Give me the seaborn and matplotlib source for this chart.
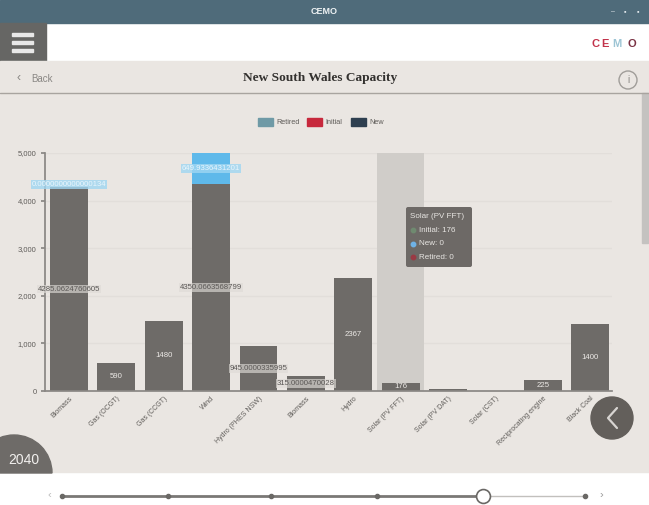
import matplotlib
matplotlib.use("Agg")
import matplotlib.pyplot as plt
from matplotlib.patches import Circle, FancyBboxPatch, Rectangle, Wedge
import numpy as np
import pandas as pd
import seaborn as sns

technologies = ["Biomass", "Gas (OCGT)", "Gas (CCGT)", "Wind", "Hydro (PHES NSW)", "Biomass",
                "Hydro", "Solar (PV FFT)", "Solar (PV DAT)", "Solar (CST)",
                "Reciprocating engine", "Black Coal"]
initial_mw = [4285.0624760605, 590, 1480, 4350.0663568799, 945.0000335995, 315.0000470028,
              2367, 176, 50, 6, 225, 1400]
new_mw = [0.0000000000000134, 0, 0, 649.9336431201, 0, 0, 0, 0, 0, 0, 0, 0]
bar_labels = ["4285.0624760605", "590", "1480", "4350.0663568799", "945.0000335995",
              "315.0000470028", "2367", "176", "", "", "225", "1400"]
new_labels = ["0.0000000000000134", "", "", "649.9336431201"]
y_ticks = [0, 1000, 2000, 3000, 4000, 5000]
y_tick_labels = ["0", "1,000", "2,000", "3,000", "4,000", "5,000"]
legend_names = ["Retired", "Initial", "New"]
legend_colors = ["#6f9aa6", "#c7283c", "#2e3f50"]
tooltip_lines = ["Solar (PV FFT)", "Initial: 176", "New: 0", "Retired: 0"]
slider_stops = [62, 168, 271, 377, 483, 585]

W, H = 649, 505
BG = "#eae6e2"
BAR = "#6e6b68"
GRID = "#e2deda"
INK = "#5f5c59"

sns.set_theme(style="white")
plt.rcParams["font.family"] = ["Liberation Sans", "DejaVu Sans"]

fig = plt.figure(figsize=(W / 100, H / 100), dpi=100, facecolor="white")

# Page furniture is laid out in pixel coordinates on a full-figure layer
page = fig.add_axes([0, 0, 1, 1], zorder=0)
page.set_xlim(0, W)
page.set_ylim(H, 0)
page.axis("off")
page.add_patch(Rectangle((0, 0), W, 23, color="#4f6b7a"))
page.add_patch(Rectangle((0, 23), 46, 38, color="#666664"))
for yy in (34, 42, 50):
    page.add_patch(Rectangle((12, yy - 1.5), 21, 3, color="#e8e8e8"))
page.add_patch(Rectangle((0, 61), W, 411, color=BG))
page.plot([0, W], [92.5, 92.5], color="#a8a49f", lw=1)
page.add_patch(Rectangle((642, 93), 6, 150, color="#c4c2c0"))
page.text(324, 11.5, "CEMO", color="#eef2f4", fontsize=6.5, weight="bold", ha="center", va="center")
for bx, glyph in zip((613, 625, 638), ("–", "▪", "▪")):
    page.text(bx, 11.5, glyph, color="#dfe6ea", fontsize=5, ha="center", va="center")
for lx, glyph, colour in zip((595, 605, 617, 632), "CEMO",
                             ("#c2324a", "#c2324a", "#9cc4d4", "#7a3244")):
    page.text(lx, 44, glyph, color=colour, fontsize=8, weight="bold", ha="center", va="center")
page.text(19, 78, "‹", color="#8a8784", fontsize=9, ha="center", va="center")
page.text(42, 79, "Back", color="#8a8784", fontsize=7, ha="center", va="center")
page.text(320, 78.5, "New South Wales Capacity", color="#33312f", fontsize=9.6,
          weight="bold", family="Liberation Serif", ha="center", va="center")
page.add_patch(Circle((628, 80), 9, fill=False, ec="#a09d99", lw=1))
page.text(628, 80, "i", color="#8a8784", fontsize=7, ha="center", va="center")

# Legend row
for x0, tx, name, colour in zip((258, 307, 351), (276, 325, 369), legend_names, legend_colors):
    page.add_patch(Rectangle((x0, 118), 15, 8, color=colour))
    page.text(tx, 122, name, color=INK, fontsize=5.2, va="center")

# Year badge
page.add_patch(Wedge((14, 473), 38, 180, 360, color=BAR))
page.text(24, 460, "2040", color="#f2f0ee", fontsize=10, ha="center", va="center")

# Back button
page.add_patch(Circle((612, 418), 21, color="#635f5b", zorder=6))
page.plot([617, 608, 617], [408, 418, 428], color="#d8d5d2", lw=1.6, zorder=7)

# Timeline slider
page.plot([62, 483], [496, 496], color="#7a7875", lw=2)
page.plot([483, 585], [496, 496], color="#c2c0bd", lw=1)
for sx in slider_stops:
    page.plot(sx, 496, "o", ms=3, color="#6a6865")
page.plot(483, 496, "o", ms=10, mfc="white", mec="#6a6865", mew=1.2, zorder=5)
page.text(49, 495, "‹", color="#bbbbbb", fontsize=8, ha="center", va="center")
page.text(601, 495, "›", color="#999999", fontsize=8, ha="center", va="center")

# Capacity bars
ax = fig.add_axes([45 / W, 1 - 391 / H, (612 - 45) / W, (391 - 153) / H], zorder=2)
ax.patch.set_alpha(0)
frame = pd.DataFrame({"technology": np.arange(len(technologies)), "initial": initial_mw, "new": new_mw})
ax.axvspan(6.51, 7.5, color="#d0cdc9", zorder=1, lw=0)
sns.barplot(data=frame, x="technology", y="initial", color=BAR, saturation=1, width=0.8,
            linewidth=0, ax=ax, zorder=2)
ax.bar(frame["technology"], frame["new"], bottom=frame["initial"], width=0.8,
       color="#5fb9ea", linewidth=0, zorder=2)

ax.set_xlim(-0.506, 11.46)
ax.set_ylim(0, 5000)
ax.set_yticks(y_ticks, y_tick_labels)
ax.set_xticks(range(len(technologies)))
ax.set_xticklabels(technologies, rotation=45, ha="right", rotation_mode="anchor",
                   fontsize=5, color=INK)
ax.tick_params(axis="y", labelsize=5.5, labelcolor=INK, length=3, color="#8a8784", pad=3, left=True)
ax.tick_params(axis="x", length=0, pad=3)
ax.set_xlabel("")
ax.set_ylabel("")
ax.grid(axis="y", color=GRID, lw=1)
ax.set_axisbelow(True)
sns.despine(ax=ax, top=True, right=True)
ax.spines["left"].set_color("#8a8784")
ax.spines["bottom"].set_color("#8a8784")

# Value labels inside the bars
for i, (value, text) in enumerate(zip(initial_mw, bar_labels)):
    if text:
        long_label = len(text) > 6
        ax.text(i, value / 2, text, fontsize=5.6, ha="center", va="center", zorder=4,
                color="#5a5755" if long_label else "#ece9e6",
                bbox=dict(boxstyle="square,pad=0.12", fc="#dedad6", ec="none", alpha=0.65) if long_label else None)
for i, text in enumerate(new_labels):
    if text:
        ax.text(i, initial_mw[i] + (new_mw[i] / 2 if new_mw[i] > 1 else 60), text, fontsize=5.6,
                ha="center", va="center", color="#eaf6fd", zorder=4,
                bbox=dict(boxstyle="square,pad=0.12", fc="#9fd6f2", ec="none", alpha=0.8))

# Hover tooltip for the highlighted category
page_top = fig.add_axes([0, 0, 1, 1], zorder=5)
page_top.set_xlim(0, W)
page_top.set_ylim(H, 0)
page_top.axis("off")
page_top.add_patch(FancyBboxPatch((406, 207), 66, 60, boxstyle="round,pad=0,rounding_size=2",
                                  fc="#6d6966", ec="none"))
for idx, line in enumerate(tooltip_lines):
    page_top.text(410 if idx == 0 else 419, 217 + idx * 13.4, line, color="#e8e6e3",
                  fontsize=5.8, va="center")
for yy, colour in zip((230.4, 243.8, 257.2), ("#6f8a70", "#6fb2e6", "#9a3a44")):
    page_top.plot(413, yy, "o", ms=3.2, color=colour)

fig.savefig("out.png", dpi=100, facecolor="white")
